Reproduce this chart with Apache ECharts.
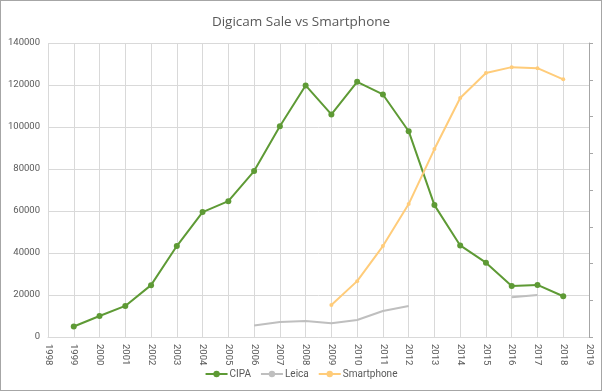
<!DOCTYPE html>
<html><head><meta charset="utf-8">
<script src="https://cdn.jsdelivr.net/npm/echarts@6/dist/echarts.min.js"></script>
<style>
html,body{margin:0;padding:0;background:#fff;}
#c{width:602px;height:391px;box-sizing:border-box;border:1px solid #a6a6a6;}
</style></head>
<body><div id="c"></div>
<script>
const years = [1999,2000,2001,2002,2003,2004,2005,2006,2007,2008,2009,2010,2011,2012,2013,2014,2015,2016,2017,2018];
const cipa = [5000,10000,14800,24700,43300,59500,64700,79000,100400,119800,106000,121500,115500,98000,62800,43600,35400,24300,24800,19400];
const leica = [null,null,null,null,null,null,null,5500,7100,7600,6600,8100,12400,14800,null,null,null,18900,20000,null];
const smartphone = [null,null,null,null,null,null,null,null,null,null,15200,26600,43300,63300,89500,113800,125700,128500,128000,122700];

const pair = arr => years.map((y,i)=>[y, arr[i]]);
const font = 'Roboto, "Open Sans", sans-serif';
const chart = echarts.init(document.getElementById('c'), null, {renderer:'canvas'});
chart.setOption({
  animation:false,
  title:{text:'Digicam Sale vs Smartphone', left:'center', top:9,
    textStyle:{fontFamily:'"Open Sans", sans-serif', fontSize:13.5, fontWeight:'normal', color:'#595959'}},
  grid:{left:47, right:12, top:42, bottom:53, containLabel:false},
  legend:{bottom:6, left:'center', itemWidth:22, itemHeight:8, itemGap:9,
    textStyle:{fontFamily:font, fontSize:10, color:'#595959', padding:[0,0,0,-3]},
    data:['CIPA','Leica','Smartphone']},
  xAxis:{type:'value', min:1998, max:2019, interval:1,
    axisLine:{show:true, lineStyle:{color:'#d9d9d9'}},
    axisTick:{show:false},
    splitLine:{show:true, lineStyle:{color:'#d9d9d9'}},
    axisLabel:{rotate:-90, margin:7, color:'#595959', fontFamily:font, fontSize:9.5, formatter:v=>String(v)}},
  yAxis:[{type:'value', min:0, max:140000, interval:20000,
    axisLine:{show:false}, axisTick:{show:false},
    splitLine:{show:true, lineStyle:{color:'#d9d9d9'}},
    axisLabel:{margin:8, color:'#595959', fontFamily:font, fontSize:9.5, formatter:v=>String(v)}},
   {type:'value', min:0, max:140000, interval:17500, position:'right',
    axisLine:{show:true, lineStyle:{color:'#a6a6a6'}},
    axisTick:{show:true, inside:false, length:4, lineStyle:{color:'#a6a6a6'}},
    splitLine:{show:false}, axisLabel:{show:false}}],
  series:[
    {name:'CIPA', type:'line', data:pair(cipa), symbol:'circle', symbolSize:6,
     itemStyle:{color:'#5e9a35'}, lineStyle:{width:2, color:'#5e9a35'}},
    {name:'Leica', type:'line', data:pair(leica), symbol:'none', showSymbol:false, connectNulls:false,
     itemStyle:{color:'#bfbfbf'}, lineStyle:{width:2, color:'#bfbfbf'}},
    {name:'Smartphone', type:'line', data:pair(smartphone), symbol:'circle', symbolSize:4, connectNulls:false,
     itemStyle:{color:'#ffcc7a'}, lineStyle:{width:2, color:'#ffcc7a'}}
  ]
});
</script></body></html>
